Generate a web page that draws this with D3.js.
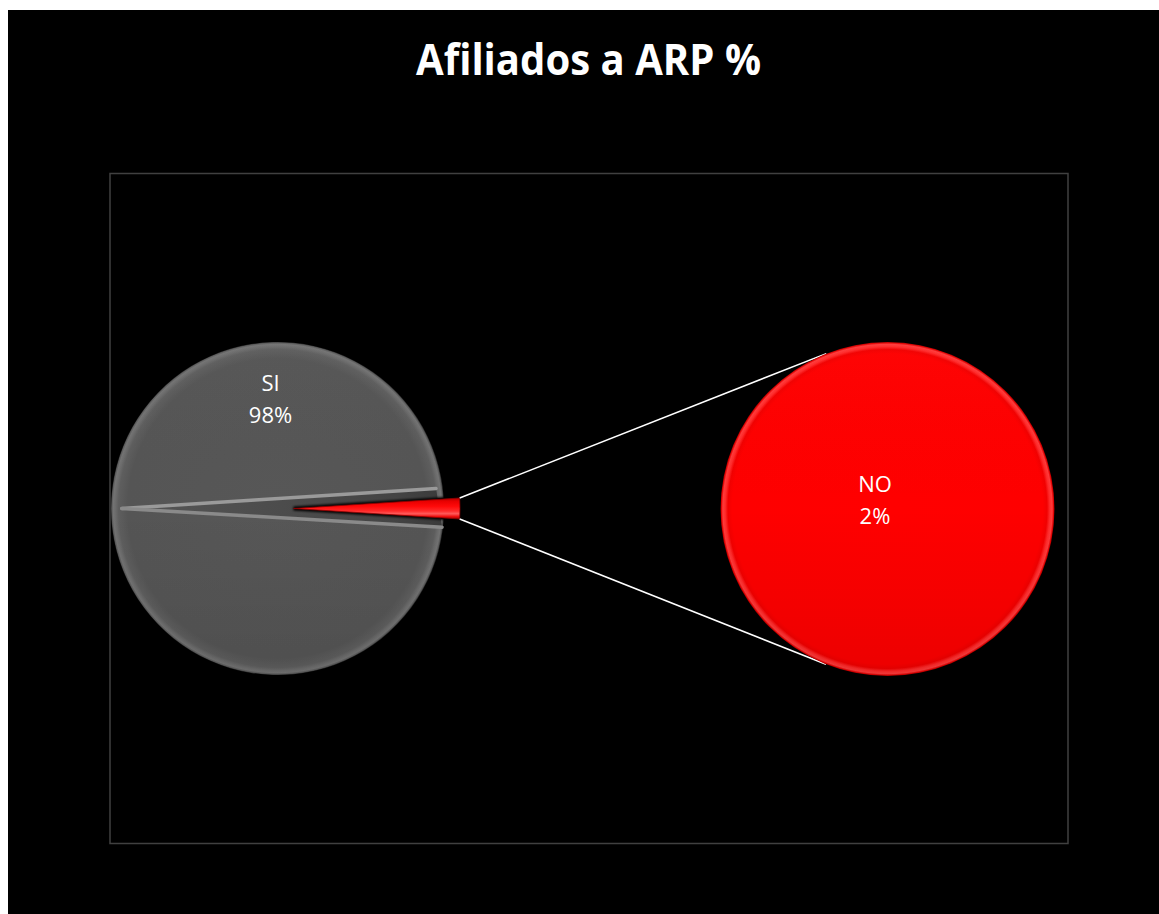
<!DOCTYPE html>
<html>
<head>
<meta charset="utf-8">
<title>Afiliados a ARP %</title>
<script src="https://cdn.jsdelivr.net/npm/d3@7"></script>
<style>
  html, body { margin: 0; padding: 0; background: #ffffff; }
  svg { display: block; }
</style>
</head>
<body>
<svg id="chart" width="1159" height="914"></svg>
<script>
// ---- data ----
const chartTitle = "Afiliados a ARP %";
const categories = ["SI", "NO"];
const shares = [98, 2];
// slices moved to the secondary (detail) pie
const secondaryCategories = ["NO"];
const secondaryShares = [2];

// ---- layout ----
const W = 1159, H = 914;
const frame = { x: 8, y: 10 };
const plotBox = { x: 110, y: 173.5, w: 958, h: 670 };
const mainPie = { cx: 277.5, cy: 508.5, r: 166.5 };
const secPie = { cx: 887.5, cy: 509, r: 167 };
const explode = 16;

const svg = d3.select("#chart");
const defs = svg.append("defs");

// background and plot area border
svg.append("rect").attr("x", frame.x).attr("y", frame.y)
  .attr("width", W - frame.x).attr("height", H - frame.y).attr("fill", "#000");
svg.append("rect").attr("x", plotBox.x).attr("y", plotBox.y)
  .attr("width", plotBox.w).attr("height", plotBox.h)
  .attr("fill", "none").attr("stroke", "#404040").attr("stroke-width", 1.5);

// title
const title = svg.append("text")
  .attr("x", 588.5).attr("y", 75)
  .attr("text-anchor", "middle")
  .attr("font-family", "'Open Sans', 'DejaVu Sans', sans-serif")
  .attr("font-weight", 700).attr("font-size", 43)
  .attr("fill", "#fff").text(chartTitle);
const titleTarget = 345;
const tl = title.node().getComputedTextLength();
if (Math.abs(tl - titleTarget) / titleTarget > 0.015) {
  title.attr("textLength", titleTarget).attr("lengthAdjust", "spacingAndGlyphs");
}

// ---- gradients (bevelled look) ----
function radialBevel(id, stops) {
  const g = defs.append("radialGradient").attr("id", id)
    .attr("cx", "50%").attr("cy", "50%").attr("r", "50%");
  stops.forEach(([o, c]) => g.append("stop").attr("offset", o).attr("stop-color", c));
}
radialBevel("bevelGray", [
  [0, "#575757"], [0.9, "#555555"], [0.93, "#5a5a5a"], [0.955, "#5e5e5e"],
  [0.972, "#6b6b6b"], [0.986, "#737373"], [0.995, "#5a5a5a"], [1, "#333"]
]);
radialBevel("bevelRed", [
  [0, "#ff0000"], [0.93, "#fe0000"], [0.955, "#f20000"],
  [0.972, "#ff2a2a"], [0.986, "#ff3a3a"], [0.995, "#e00000"], [1, "#a80000"]
]);
const shade = defs.append("linearGradient").attr("id", "shadeV")
  .attr("x1", 0).attr("y1", 0).attr("x2", 0).attr("y2", 1);
[[0, "#fff", 0.02], [0.5, "#000", 0], [1, "#000", 0.07]].forEach(([o, c, a]) =>
  shade.append("stop").attr("offset", o).attr("stop-color", c).attr("stop-opacity", a));

const gapGrad = defs.append("linearGradient").attr("id", "gapGrad")
  .attr("x1", 0).attr("y1", 0).attr("x2", 1).attr("y2", 0);
[[0, "#565656"], [0.5, "#4c4c4c"], [0.85, "#444"], [1, "#3a3a3a"]]
  .forEach(([o, c]) => gapGrad.append("stop").attr("offset", o).attr("stop-color", c));

const redWedge = defs.append("linearGradient").attr("id", "redWedge")
  .attr("x1", 0).attr("y1", 0).attr("x2", 0).attr("y2", 1);
[[0, "#b00000"], [0.15, "#e80000"], [0.4, "#ff0a0a"], [0.62, "#ff2a2a"],
 [0.75, "#ff5a5a"], [0.88, "#f01010"], [1, "#a00000"]]
  .forEach(([o, c]) => redWedge.append("stop").attr("offset", o).attr("stop-color", c));

const soft = defs.append("filter").attr("id", "soft")
  .attr("x", "-10%").attr("y", "-10%").attr("width", "120%").attr("height", "120%");
soft.append("feGaussianBlur").attr("stdDeviation", 0.7);
const halo = defs.append("filter").attr("id", "halo")
  .attr("x", "-20%").attr("y", "-50%").attr("width", "140%").attr("height", "200%");
halo.append("feGaussianBlur").attr("stdDeviation", 1.2);

// ---- main pie ----
const total = d3.sum(shares);
const otherFrac = shares[1] / total;
// put the "other" slice centred at 3 o'clock, facing the detail pie
const a0 = Math.PI / 2 + Math.PI * otherFrac;
const pie = d3.pie().sort(null).value(d => d)
  .startAngle(a0).endAngle(a0 + 2 * Math.PI);
const arcs = pie(shares);
const arcMain = d3.arc().innerRadius(0).outerRadius(mainPie.r);

const polar = (cx, cy, a, r) => [cx + Math.sin(a) * r, cy - Math.cos(a) * r];

const gMain = svg.append("g").attr("transform", `translate(${mainPie.cx},${mainPie.cy})`);

// big slice
gMain.append("path").attr("d", arcMain(arcs[0])).attr("fill", "url(#bevelGray)");
gMain.append("path").attr("d", arcMain(arcs[0])).attr("fill", "url(#shadeV)");

// bevelled gap where the small slice was pulled out
const redArc = arcs[1];
const midA = (redArc.startAngle + redArc.endAngle) / 2;
const half = (redArc.endAngle - redArc.startAngle) / 2;
const apex = polar(0, 0, midA + Math.PI, mainPie.r * 0.935);
const gapTop = polar(0, 0, midA - half * 2.0, mainPie.r * 0.96);
const gapBot = polar(0, 0, midA + half * 1.8, mainPie.r * 0.995);
gMain.append("path")
  .attr("d", d3.line()([apex, gapTop, gapBot]) + "Z")
  .attr("fill", "url(#gapGrad)");
const hl = gMain.append("g").attr("filter", "url(#soft)")
  .attr("stroke", "#9a9a9a").attr("stroke-linecap", "round").attr("fill", "none");
hl.append("path").attr("d", d3.line()([apex, gapTop])).attr("stroke-width", 3.4);
hl.append("path").attr("d", d3.line()([apex, gapBot])).attr("stroke-width", 3.4)
  .attr("stroke", "#8a8a8a");

// exploded small slice
const ex = polar(0, 0, midA, explode);
const gRed = gMain.append("g").attr("transform", `translate(${ex[0]},${ex[1]})`);
gRed.append("path").attr("d", arcMain(redArc))
  .attr("fill", "none").attr("stroke", "#000").attr("stroke-width", 4)
  .attr("filter", "url(#halo)");
gRed.append("path").attr("d", arcMain(redArc))
  .attr("fill", "url(#redWedge)").attr("stroke", "#900000").attr("stroke-width", 0.8);

// outer corners of the small slice, in page coordinates
const cornerTop = polar(mainPie.cx + ex[0], mainPie.cy + ex[1], redArc.startAngle, mainPie.r);
const cornerBot = polar(mainPie.cx + ex[0], mainPie.cy + ex[1], redArc.endAngle, mainPie.r);

// ---- connector lines (tangents to the detail pie) ----
function tangentPoint(p, c, r, side) {
  const dx = p[0] - c.cx, dy = p[1] - c.cy;
  const d = Math.hypot(dx, dy);
  const base = Math.atan2(dy, dx);
  const t = Math.acos(r / d);
  const ang = base + side * t;
  return [c.cx + Math.cos(ang) * r, c.cy + Math.sin(ang) * r];
}
const tTop = tangentPoint(cornerTop, secPie, secPie.r, 1);
const tBot = tangentPoint(cornerBot, secPie, secPie.r, -1);
svg.append("g").attr("stroke", "#fff").attr("stroke-width", 1.6).attr("fill", "none")
  .selectAll("path").data([[cornerTop, tTop], [cornerBot, tBot]]).join("path")
  .attr("d", d => d3.line()(d));

// ---- detail pie ----
const pie2 = d3.pie().sort(null).value(d => d);
const arcs2 = pie2(secondaryShares);
const arcSec = d3.arc().innerRadius(0).outerRadius(secPie.r);
const gSec = svg.append("g").attr("transform", `translate(${secPie.cx},${secPie.cy})`);
gSec.selectAll("path.slice").data(arcs2).join("path").attr("class", "slice")
  .attr("d", arcSec).attr("fill", "url(#bevelRed)");
gSec.selectAll("path.shade").data(arcs2).join("path").attr("class", "shade")
  .attr("d", arcSec).attr("fill", "url(#shadeV)");

// ---- data labels ----
const pct = d3.format(".0%");
function label(x, y, name, value) {
  const t = svg.append("text")
    .attr("text-anchor", "middle")
    .attr("font-family", "'Open Sans', 'DejaVu Sans', sans-serif")
    .attr("font-size", 22).attr("fill", "#fff");
  t.append("tspan").attr("x", x).attr("y", y).text(name);
  t.append("tspan").attr("x", x).attr("y", y + 32).text(pct(value));
}
const lblMain = polar(mainPie.cx, mainPie.cy, -0.06, mainPie.r * 0.7);
label(lblMain[0], lblMain[1] - 1, categories[0], shares[0] / total);
label(secPie.cx - 12.5, secPie.cy - 17, secondaryCategories[0], secondaryShares[0] / total);
</script>
</body>
</html>
